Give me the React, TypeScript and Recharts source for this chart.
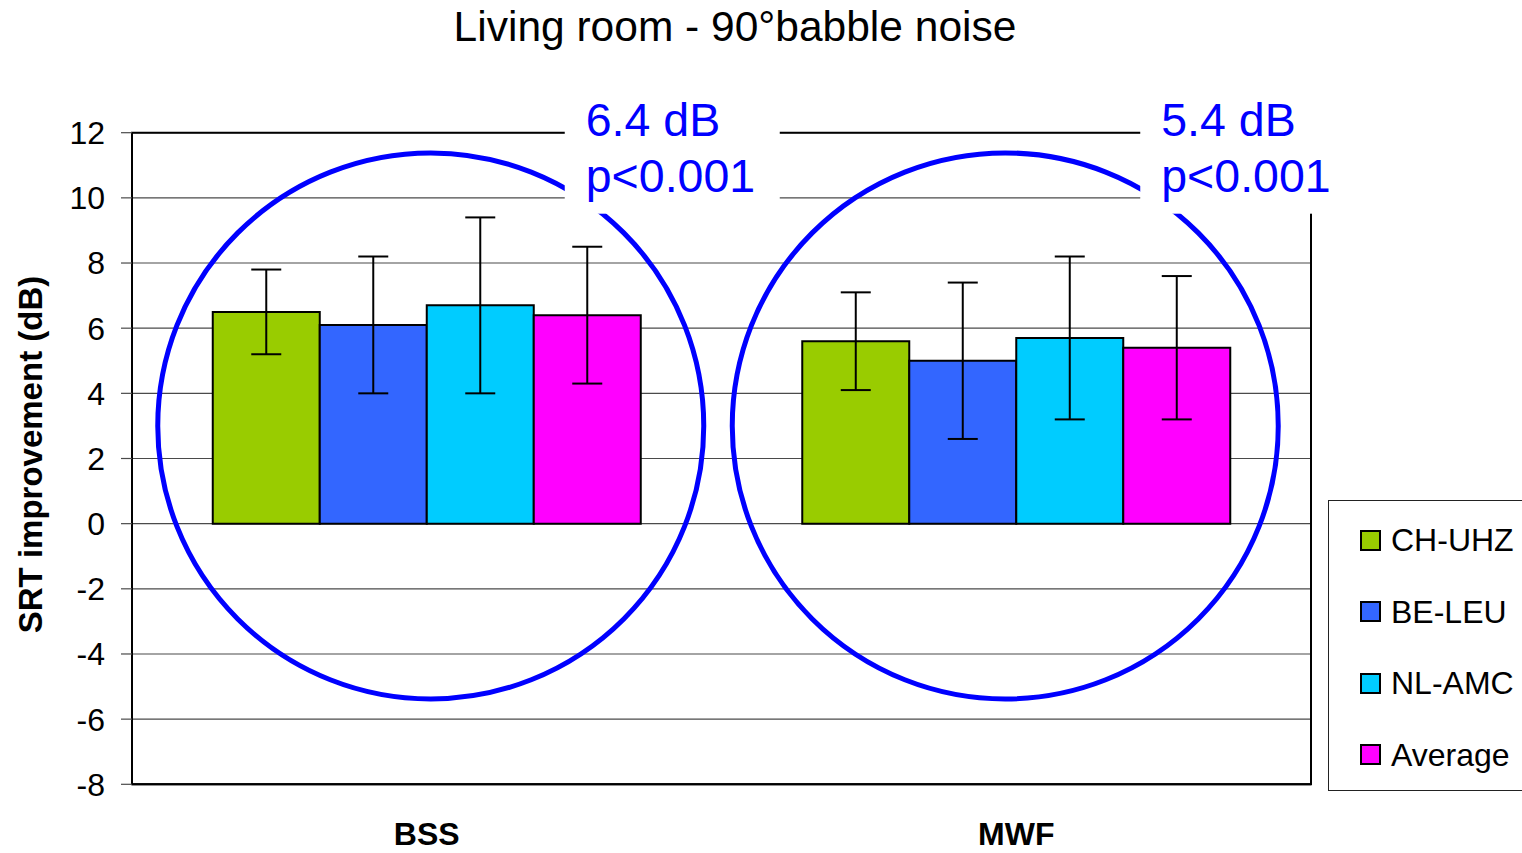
import React from 'react'
import {
  ComposedChart, Bar, ErrorBar, XAxis, YAxis, CartesianGrid, Legend,
  ReferenceArea, ReferenceDot,
} from 'recharts'

// values
const categories = ['BSS', 'MWF']
const chUhz = [6.5, 5.6]
const chUhzErr = [1.3, 1.5]
const beLeu = [6.1, 5.0]
const beLeuErr = [2.1, 2.4]
const nlAmc = [6.7, 5.7]
const nlAmcErr = [2.7, 2.5]
const average = [6.4, 5.4]
const averageErr = [2.1, 2.2]
const yTicks = [-8, -6, -4, -2, 0, 2, 4, 6, 8, 10, 12]

const seriesNames = ['CH-UHZ', 'BE-LEU', 'NL-AMC', 'Average']
const seriesColors = ['#99CC00', '#3366FF', '#00CCFF', '#FF00FF']

const gains = ['6.4 dB', '5.4 dB']
const pValues = ['p<0.001', 'p<0.001']
const circleCenterY = 3

// pixel nudges for the annotations (circles aren't exactly on category centres)
const circleDx = [4, -11]
const labelDx = [159, 145]

const data = categories.map((cat, i) => ({
  cat,
  s0: chUhz[i], e0: chUhzErr[i],
  s1: beLeu[i], e1: beLeuErr[i],
  s2: nlAmc[i], e2: nlAmcErr[i],
  s3: average[i], e3: averageErr[i],
}))

const FONT = '"Liberation Sans", Arial, sans-serif'
const BLUE = '#0000FF'
const GRID = '#4a4a4a'

function LegendBox() {
  return (
    <div style={{
      position: 'relative', width: 210, height: 291, boxSizing: 'border-box',
      border: '1px solid #222', background: '#fff', fontFamily: FONT, fontSize: 32,
    }}>
      {seriesNames.map((name, i) => (
        <div key={name} style={{ position: 'absolute', left: 0, top: 19 + i * 71.5, height: 40, display: 'flex', alignItems: 'center' }}>
          <span style={{
            display: 'inline-block', width: 21, height: 21, marginLeft: 31, marginRight: 10,
            background: seriesColors[i], border: '2px solid #000', boxSizing: 'border-box',
          }} />
          <span style={{ color: '#000', lineHeight: '40px' }}>{name}</span>
        </div>
      ))}
    </div>
  )
}

function YLabel(props: any) {
  const vb = props.viewBox || { y: 132, height: 652 }
  const x = 42
  const y = vb.y + vb.height / 2 - 4
  return (
    <text x={x} y={y} transform={`rotate(-90 ${x} ${y})`} textAnchor="middle"
      fontFamily={FONT} fontSize={33} fontWeight="bold" fill="#000">
      SRT improvement (dB)
    </text>
  )
}

export default function App() {
  return (
    <div style={{ position: 'absolute', left: 0, top: 0, width: 1522, height: 853, overflow: 'hidden', background: '#fff' }}>
      <div style={{
        position: 'absolute', left: 0, top: 6, width: 1470, textAlign: 'center',
        fontFamily: FONT, fontSize: 42.5, lineHeight: '42px', color: '#000', zIndex: 2,
      }}>
        Living room - 90°babble noise
      </div>
      <ComposedChart
        width={1522}
        height={853}
        data={data}
        margin={{ top: 132.7, right: 211, bottom: 0, left: 32 }}
        barGap={0}
        barCategoryGap="13.7%"
      >
        <CartesianGrid vertical={false} stroke={GRID} strokeWidth={1.2} />
        <XAxis
          dataKey="cat"
          height={68.7}
          tickLine={false}
          tickSize={6}
          tickMargin={32}
          axisLine={{ stroke: '#000', strokeWidth: 2 }}
          tick={{ fontFamily: FONT, fontSize: 32, fontWeight: 'bold', fill: '#000' }}
        />
        <YAxis
          width={100}
          domain={[-8, 12]}
          ticks={yTicks}
          interval={0}
          tickSize={11}
          tickMargin={16}
          tickLine={{ stroke: GRID, strokeWidth: 1.2 }}
          axisLine={{ stroke: '#000', strokeWidth: 2 }}
          tick={{ fontFamily: FONT, fontSize: 32, fill: '#000' }}
          label={<YLabel />}
        />
        <Legend
          layout="vertical"
          align="center"
          verticalAlign="middle"
          wrapperStyle={{ left: 1328, top: 500, width: 210, height: 291 }}
          content={() => <LegendBox />}
        />
        {seriesNames.map((name, i) => (
          <Bar key={name} dataKey={`s${i}`} name={name} fill={seriesColors[i]}
            stroke="#000" strokeWidth={2} isAnimationActive={false}>
            <ErrorBar dataKey={`e${i}`} width={15} stroke="#000" strokeWidth={2} direction="y" />
          </Bar>
        ))}
        <ReferenceArea y1={-8} y2={12} fill="none" fillOpacity={0} stroke="#000" strokeWidth={2} />
        {categories.map((cat, i) => (
          <ReferenceDot
            key={`c-${cat}`}
            x={cat}
            y={circleCenterY}
            r={273}
            shape={(p: any) => (
              <circle cx={p.cx + circleDx[i]} cy={p.cy} r={273} fill="none" stroke={BLUE} strokeWidth={5} />
            )}
          />
        ))}
        {categories.map((cat, i) => (
          <ReferenceDot
            key={`l-${cat}`}
            x={cat}
            y={12}
            r={1}
            shape={(p: any) => (
              <g>
                <rect x={p.cx + labelDx[i] - 21} y={p.cy - 40} width={215} height={121} fill="#fff" />
                <text x={p.cx + labelDx[i]} y={p.cy + 3} fontFamily={FONT} fontSize={46.5} fill={BLUE}>{gains[i]}</text>
                <text x={p.cx + labelDx[i]} y={p.cy + 59} fontFamily={FONT} fontSize={46.5} fill={BLUE}>{pValues[i]}</text>
              </g>
            )}
          />
        ))}
      </ComposedChart>
    </div>
  )
}
